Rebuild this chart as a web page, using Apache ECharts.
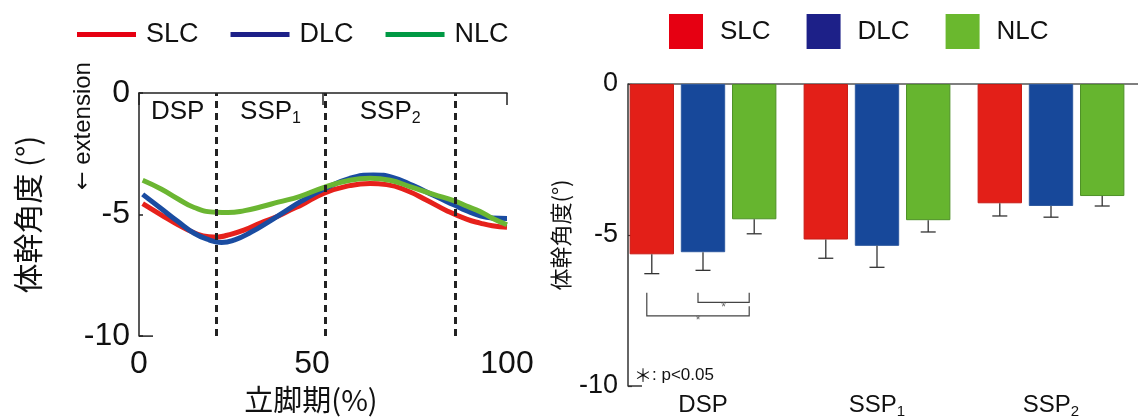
<!DOCTYPE html>
<html><head><meta charset="utf-8">
<script src="https://cdn.jsdelivr.net/npm/echarts@6/dist/echarts.min.js"></script>
<style>html,body{margin:0;padding:0;background:#fff}#c{width:1138px;height:419px}</style>
</head><body><div id="c"></div>
<script>
// ---------------- data ----------------
const seriesNames = ['SLC', 'DLC', 'NLC'];
// left: trunk angle over stance phase (% , deg)
const curveSLC = [[1,-4.55],[6,-5.01],[10.5,-5.41],[15,-5.75],[19,-5.91],[21.5,-5.92],[24,-5.85],[28.5,-5.64],[33,-5.35],[38,-5.05],[42,-4.75],[44,-4.62],[50.3,-4.12],[57.3,-3.81],[62.8,-3.72],[67.3,-3.77],[72.7,-4.01],[78.2,-4.41],[83.6,-4.84],[89,-5.19],[92.7,-5.35],[96,-5.46],[100,-5.52]];
const curveDLC = [[1,-4.17],[6,-4.75],[10.5,-5.28],[15,-5.77],[19,-6.04],[22.4,-6.15],[26,-6.04],[30.5,-5.72],[35,-5.32],[39.6,-4.88],[44,-4.46],[50.3,-3.95],[57.3,-3.51],[63.7,-3.37],[69.1,-3.48],[74.5,-3.81],[80,-4.21],[85.7,-4.61],[89,-4.84],[92.7,-5.05],[96,-5.14],[100,-5.16]];
const curveNLC = [[1,-3.59],[6,-3.95],[10.5,-4.35],[15,-4.71],[21,-4.91],[24.2,-4.92],[28.7,-4.84],[33.2,-4.68],[37.8,-4.49],[43.8,-4.25],[50.3,-3.88],[57.3,-3.59],[62.8,-3.51],[68.2,-3.59],[73.6,-3.85],[80,-4.17],[85.7,-4.44],[89,-4.65],[92.7,-4.88],[96,-5.15],[100,-5.42]];
const phaseNames = ['DSP', 'SSP1', 'SSP2'];
const phaseBounds = [0, 21, 50.5, 86];
const leftXTicks = [0, 50, 100];
const leftYTicks = [0, -5, -10];
// right: mean trunk angle per phase with SD
const barCategories = ['DSP', 'SSP1', 'SSP2'];
const meanSLC = [-5.64, -5.15, -3.95];
const meanDLC = [-5.57, -5.36, -4.04];
const meanNLC = [-4.48, -4.51, -3.71];
const sdSLC = [0.64, 0.62, 0.42];
const sdDLC = [0.60, 0.71, 0.37];
const sdNLC = [0.48, 0.39, 0.33];
const rightYTicks = [0, -5, -10];
// significance brackets: [category, fromBar, toBar, leftTop, rightTop, bottom, starY]
const sigBrackets = [[0, 1, 2, -6.91, -6.91, -7.23, -7.40], [0, 0, 2, -6.91, -7.36, -7.68, -7.84]];
const sigNote = 'p<0.05';

// ---------------- style ----------------
const FONT = "'Liberation Sans', Arial, sans-serif";
const JFONT = "'Noto Sans CJK JP', 'Liberation Sans', sans-serif";
const curveColors = ['#E6211B', '#1A4CA1', '#6BB632'];
const leftLegendColors = ['#E60012', '#1D2088', '#009944'];
const barColors = ['#E31F18', '#17489A', '#66B52F'];
const barBorders = ['#C81B15', '#2F5AA0', '#4E9127'];
const rightLegendColors = ['#E60012', '#1D2088', '#6AB82E'];
const BAR_W = 0.255, BAR_GAP = 0.154;
const L = {left: 139, top: 93, width: 368, height: 250};
const R = {left: 616, top: 84, width: 534, height: 311};
const R_AXIS_SHIFT = 12;

function subRich(s) {
  const m = /^(.*?)(\d)$/.exec(s);
  return m ? '{m|' + m[1] + '}{s|' + m[2] + '}' : '{m|' + s + '}';
}

const curves = [curveSLC, curveDLC, curveNLC];
const means = [meanSLC, meanDLC, meanNLC];
const sds = [sdSLC, sdDLC, sdNLC];

const series = [];
curves.forEach((c, i) => {
  const s = {
    name: seriesNames[i], type: 'line', xAxisIndex: 0, yAxisIndex: 0,
    data: c, smooth: 0.5, showSymbol: false, symbol: 'none',
    lineStyle: {color: curveColors[i], width: 5}, itemStyle: {color: curveColors[i]},
    z: 3 + i, silent: true
  };
  if (i === 2) {
    s.markLine = {
      silent: true, symbol: 'none', label: {show: false},
      lineStyle: {color: '#222', width: 3, type: [7, 5]},
      data: phaseBounds.slice(1).map(v => ({xAxis: v})),
      z: 10
    };
    s.markArea = {
      silent: true, itemStyle: {color: 'rgba(0,0,0,0)'},
      label: {
        show: true, position: 'insideTop', distance: 4, color: '#111',
        formatter: p => subRich(p.name),
        rich: {m: {fontFamily: FONT, fontSize: 26, color: '#111', lineHeight: 30},
               s: {fontFamily: FONT, fontSize: 16, color: '#111', verticalAlign: 'bottom', lineHeight: 26}}
      },
      data: phaseNames.map((n, k) => [{name: n, xAxis: phaseBounds[k]}, {xAxis: phaseBounds[k + 1]}])
    };
  }
  series.push(s);
});
means.forEach((m, i) => {
  series.push({
    name: seriesNames[i], type: 'bar', xAxisIndex: 2, yAxisIndex: 1,
    data: m, barWidth: (BAR_W * 100) + '%', barGap: (BAR_GAP * 100) + '%',
    itemStyle: {color: barColors[i], borderColor: barBorders[i], borderWidth: 1},
    silent: true
  });
});
means.forEach((m, i) => {
  series.push({
    name: seriesNames[i] + ' SD', type: 'custom', xAxisIndex: 2, yAxisIndex: 1,
    data: m.map((v, k) => [k, v, sds[i][k]]), z: 5, silent: true,
    renderItem: (params, api) => {
      const band = api.size([1, 0])[0];
      const w = band * BAR_W;
      const off = (i - 1) * w * (1 + BAR_GAP);
      const top = api.coord([api.value(0), api.value(1)]);
      const bot = api.coord([api.value(0), api.value(1) - api.value(2)]);
      const x = top[0] + off;
      return {type: 'group', children: [
        {type: 'line', shape: {x1: x, y1: top[1], x2: x, y2: bot[1]}, style: {stroke: '#333', lineWidth: 1.3}},
        {type: 'line', shape: {x1: x - 7.5, y1: bot[1], x2: x + 7.5, y2: bot[1]}, style: {stroke: '#333', lineWidth: 1.3}}
      ]};
    }
  });
});
series.push({
  name: 'sig', type: 'custom', xAxisIndex: 2, yAxisIndex: 1, data: sigBrackets, z: 6, silent: true,
  renderItem: (params, api) => {
    const band = api.size([1, 0])[0];
    const w = band * BAR_W;
    const cx = k => api.coord([api.value(0), 0])[0] + (k - 1) * w * (1 + BAR_GAP) - 5;
    const xa = cx(api.value(1)), xb = cx(api.value(2));
    const y = v => api.coord([api.value(0), v])[1];
    const yl = y(api.value(3)), yr = y(api.value(4)), yb = y(api.value(5)), ys = y(api.value(6));
    return {type: 'group', children: [
      {type: 'polyline', shape: {points: [[xa, yl], [xa, yb], [xb, yb], [xb, yr]]}, style: {stroke: '#444', lineWidth: 1.2, fill: null}},
      {type: 'text', style: {x: (xa + xb) / 2, y: ys, text: '*', fill: '#666', font: '12px ' + FONT, align: 'center', verticalAlign: 'middle'}}
    ]};
  }
});

const option = {
  animation: false,
  backgroundColor: '#fff',
  textStyle: {fontFamily: FONT},
  legend: [
    {
      left: 77, top: 21, padding: 0, itemWidth: 59, itemHeight: 5, itemGap: 32, icon: 'rect',
      selectedMode: false,
      textStyle: {fontFamily: FONT, fontSize: 27, color: '#111', padding: [0, 0, 0, 5]},
      data: seriesNames.map((n, i) => ({name: n, itemStyle: {color: leftLegendColors[i]}}))
    },
    {
      left: 669, top: 14, padding: 0, itemWidth: 34, itemHeight: 35, itemGap: 36, icon: 'rect',
      selectedMode: false,
      textStyle: {fontFamily: FONT, fontSize: 26, color: '#111', padding: [0, 0, 0, 12]},
      data: seriesNames.map((n, i) => ({name: n, itemStyle: {color: rightLegendColors[i]}}))
    }
  ],
  grid: [
    {left: L.left, top: L.top, width: L.width, height: L.height},
    {left: R.left, top: R.top, width: R.width, height: R.height}
  ],
  xAxis: [
    {
      gridIndex: 0, type: 'value', min: leftXTicks[0], max: leftXTicks[leftXTicks.length - 1], interval: 50,
      axisLine: {show: false}, axisTick: {show: false}, splitLine: {show: false},
      axisLabel: {fontFamily: FONT, fontSize: 32, color: '#111', margin: 12,
        formatter: v => v === 50 ? '{o|50}{p|\u2007}' : String(v),
        rich: {o: {fontFamily: FONT, fontSize: 32, color: '#111'},
               p: {fontFamily: FONT, fontSize: 32, color: 'rgba(0,0,0,0)', width: 22}}},
      name: '立脚期(%)', nameLocation: 'middle', nameGap: 42,
      nameTextStyle: {fontFamily: JFONT, fontSize: 29, color: '#111', padding: [0, 24, 0, 0]}
    },
    {
      gridIndex: 0, type: 'value', position: 'top', min: 0, max: 100, interval: 50,
      axisLine: {show: true, lineStyle: {color: '#222', width: 1.5}},
      axisTick: {show: true, inside: true, length: 12, lineStyle: {color: '#222', width: 1.5}},
      axisLabel: {show: false}, splitLine: {show: false}
    },
    {
      gridIndex: 1, type: 'category', data: barCategories, position: 'bottom',
      axisLine: {show: false, onZero: false}, axisTick: {show: false},
      axisLabel: {margin: 5, color: '#111', formatter: v => subRich(v),
        rich: {m: {fontFamily: FONT, fontSize: 24, color: '#111', lineHeight: 28},
               s: {fontFamily: FONT, fontSize: 15, color: '#111', verticalAlign: 'bottom', lineHeight: 25}}}
    }
  ],
  yAxis: [
    {
      gridIndex: 0, type: 'value', min: -10, max: 0, interval: 5,
      axisLine: {show: true, lineStyle: {color: '#222', width: 1.5}},
      axisTick: {show: true, inside: true, length: 4, lineStyle: {color: '#222', width: 1.5}},
      splitLine: {show: false},
      axisLabel: {fontFamily: FONT, fontSize: 32, color: '#111', margin: 9},
      name: '体幹角度 (°)', nameLocation: 'middle', nameGap: 96,
      nameTextStyle: {fontFamily: JFONT, fontSize: 30, color: '#111'}
    },
    {
      gridIndex: 1, type: 'value', min: -10, max: 0, interval: 5, offset: -R_AXIS_SHIFT,
      axisLine: {show: true, lineStyle: {color: '#333', width: 1.5}},
      axisTick: {show: true, inside: true, length: 4, lineStyle: {color: '#333', width: 1.2}},
      splitLine: {show: false},
      axisLabel: {fontFamily: FONT, fontSize: 27, color: '#111', margin: 10},
      name: '体幹角度(°)', nameLocation: 'middle', nameGap: 56,
      nameTextStyle: {fontFamily: JFONT, fontSize: 22, color: '#111'}
    }
  ],
  graphic: [
    {type: 'text', x: 83, y: 126, rotation: Math.PI / 2, silent: true,
     style: {text: '{a|←}{t|\u00a0extension}', align: 'center', verticalAlign: 'middle',
       rich: {a: {fontFamily: "'DejaVu Sans', sans-serif", fontSize: 22, fill: '#111'},
              t: {fontFamily: FONT, fontSize: 24, fill: '#111'}}}},
    {type: 'text', left: 634, top: 366, silent: true,
     style: {text: '{a|＊}{t|: ' + sigNote + '}',
       rich: {a: {fontFamily: JFONT, fontSize: 18, fill: '#111'},
              t: {fontFamily: FONT, fontSize: 17, fill: '#111'}}}}
  ],
  series: series
};

const chart = echarts.init(document.getElementById('c'), null, {renderer: 'canvas'});
chart.setOption(option);

// axis frame pieces (derived from the axes)
const yL10 = chart.convertToPixel({yAxisIndex: 0}, -10);
const yR0 = chart.convertToPixel({yAxisIndex: 1}, 0);
const yR10 = chart.convertToPixel({yAxisIndex: 1}, -10);
const xRAxis = R.left + R_AXIS_SHIFT;
chart.setOption({graphic: option.graphic.concat([
  {type: 'line', silent: true, shape: {x1: L.left, y1: yL10, x2: L.left + 14, y2: yL10}, style: {stroke: '#222', lineWidth: 1.5}},
  {type: 'line', silent: true, shape: {x1: xRAxis, y1: yR0, x2: 1138, y2: yR0}, style: {stroke: '#555', lineWidth: 1.6}},
  {type: 'line', silent: true, shape: {x1: xRAxis, y1: yR10, x2: xRAxis + 14, y2: yR10}, style: {stroke: '#333', lineWidth: 1.5}}
])});
</script></body></html>
